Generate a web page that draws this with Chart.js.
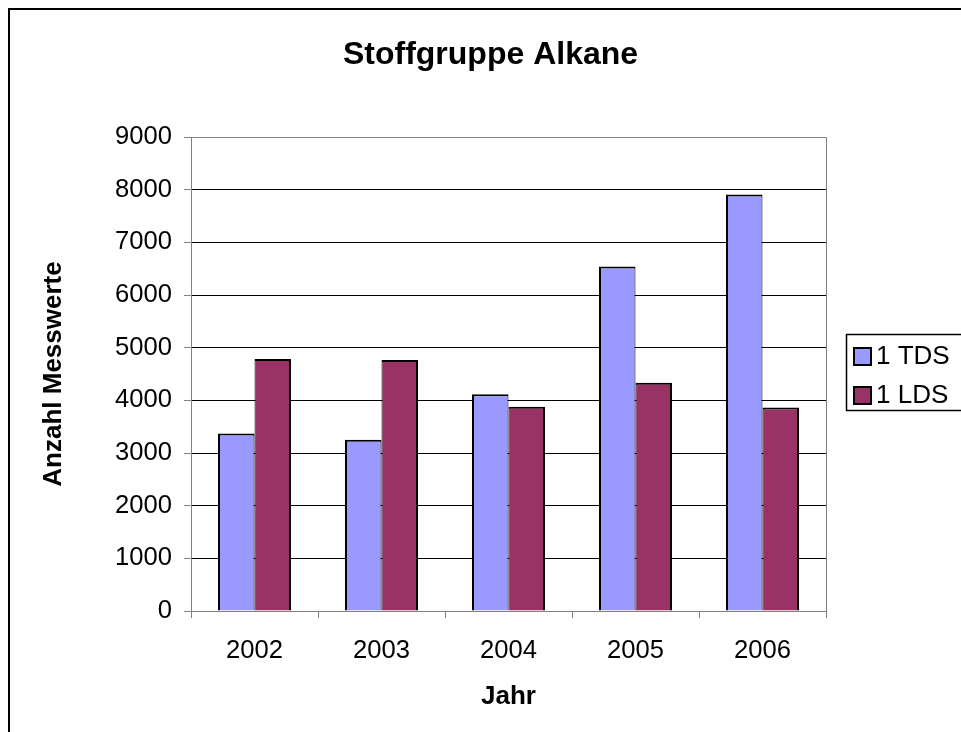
<!DOCTYPE html>
<html><head><meta charset="utf-8">
<script src="https://cdn.jsdelivr.net/npm/chart.js@4.4.1/dist/chart.umd.min.js"></script>
<style>html,body{margin:0;padding:0;background:#fff}#wrap{position:relative;width:961px;height:732px}</style>
</head><body><div id="wrap"><canvas id="c" width="961" height="732"></canvas></div>
<script>
const categories = ['2002', '2003', '2004', '2005', '2006'];
const tdsValues = [3370, 3250, 4115, 6540, 7910];
const ldsValues = [4785, 4765, 3880, 4335, 3865];
const seriesNames = ['1 TDS', '1 LDS'];
const seriesColors = ['#9999FF', '#993366'];
const chartTitle = 'Stoffgruppe Alkane';
const xTitle = 'Jahr';
const yTitle = 'Anzahl Messwerte';
const yMin = 0, yMax = 9000, yStep = 1000;

const FONT = "'Liberation Sans', Arial, sans-serif";
const GREY = '#808080';

const decor = {
  id: 'decor',
  beforeDatasetsDraw(chart) {
    const {ctx, chartArea: a} = chart;
    ctx.save();
    ctx.strokeStyle = GREY; ctx.lineWidth = 1;
    ctx.beginPath();
    ctx.moveTo(Math.round(a.left) + 0.5, Math.round(a.top) + 0.5);
    ctx.lineTo(Math.round(a.right) + 0.5, Math.round(a.top) + 0.5);
    ctx.lineTo(Math.round(a.right) + 0.5, Math.round(a.bottom) + 0.5);
    ctx.stroke();
    ctx.restore();
  },
  afterDraw(chart) {
    const {ctx} = chart;
    ctx.save();
    ctx.strokeStyle = '#000'; ctx.lineWidth = 2;
    ctx.beginPath();
    ctx.moveTo(9, 740); ctx.lineTo(9, 9); ctx.lineTo(970, 9);
    ctx.stroke();
    ctx.lineWidth = 1.5;
    ctx.strokeRect(846.5, 334.5, 140, 76);
    ctx.font = '26px ' + FONT;
    ctx.textBaseline = 'middle';
    ctx.textAlign = 'left';
    const ys = [356, 395];
    seriesNames.forEach((n, i) => {
      ctx.fillStyle = seriesColors[i];
      ctx.fillRect(854, ys[i] - 8, 17, 17);
      ctx.strokeStyle = '#000'; ctx.lineWidth = 2;
      ctx.strokeRect(854, ys[i] - 8, 17, 17);
      ctx.fillStyle = '#000';
      ctx.fillText(n, 876, ys[i] + 1);
    });
    ctx.restore();
  }
};

new Chart(document.getElementById('c'), {
  type: 'bar',
  data: {
    labels: categories,
    datasets: [
      {label: seriesNames[0], data: tdsValues, backgroundColor: seriesColors[0], borderColor: '#000',
       borderWidth: {top: 2, left: 2, right: 1, bottom: 0}, borderSkipped: false,
       categoryPercentage: 0.575, barPercentage: 1},
      {label: seriesNames[1], data: ldsValues, backgroundColor: seriesColors[1], borderColor: '#000',
       borderWidth: {top: 2, left: 1, right: 2, bottom: 0}, borderSkipped: false,
       categoryPercentage: 0.575, barPercentage: 1}
    ]
  },
  options: {
    responsive: false,
    animation: false,
    devicePixelRatio: 1,
    layout: {padding: {left: 20, top: 0, right: 0, bottom: 0}},
    plugins: {
      legend: {display: false},
      tooltip: {enabled: false},
      title: {
        display: true, text: chartTitle, color: '#000',
        font: {family: FONT, size: 32, weight: 'bold', lineHeight: 1.2},
        padding: {top: 36, bottom: 62.6}
      }
    },
    scales: {
      x: {
        grid: {display: true, drawOnChartArea: false, drawTicks: true, tickLength: 7, tickColor: GREY, offset: true},
        border: {display: true, color: GREY, width: 1},
        ticks: {color: '#000', font: {family: FONT, size: 25.6}, padding: 17.6, maxRotation: 0},
        title: {display: true, text: xTitle, color: '#000', font: {family: FONT, size: 26, weight: 'bold', lineHeight: 1.2}, padding: {top: 0, bottom: 19.4}},
        afterFit(s) { s.height = 121; }
      },
      y: {
        min: yMin, max: yMax,
        grid: {color: (c) => (c.tick && c.tick.value === yMax) ? GREY : '#000', lineWidth: 1, drawTicks: true, tickLength: 7, tickColor: GREY},
        border: {display: true, color: GREY, width: 1},
        ticks: {stepSize: yStep, color: '#000', font: {family: FONT, size: 25.6}, padding: 12, callback: (v) => String(v)},
        title: {display: true, text: yTitle, color: '#000', font: {family: FONT, size: 26, weight: 'bold', lineHeight: 1.2}, padding: {top: 18.4, bottom: 0}},
        afterFit(s) { s.width = 171; }
      },
      yRight: {
        position: 'right', min: yMin, max: yMax,
        grid: {display: false, drawOnChartArea: false},
        border: {display: false},
        ticks: {display: false},
        afterFit(s) { s.width = 135; }
      }
    }
  },
  plugins: [decor]
});
</script>
</body></html>
